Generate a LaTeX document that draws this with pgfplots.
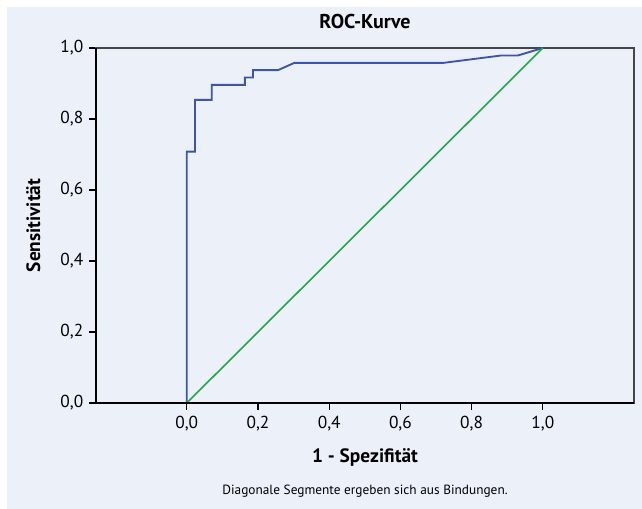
\documentclass[border=0pt]{standalone}
\usepackage{fontspec}
\setmainfont{PT Sans}
\usepackage{pgfplots}
\pgfplotsset{compat=1.18}
\usetikzlibrary{backgrounds}
\definecolor{bgblue}{RGB}{236,240,249}
\definecolor{rocblue}{RGB}{61,86,166}
\definecolor{refgreen}{RGB}{34,168,74}
\definecolor{framegray}{RGB}{70,70,70}
\begin{document}
\begin{tikzpicture}
\begin{axis}[
  at={(0pt,0pt)}, anchor=south west,
  scale only axis,
  width=403.5pt, height=266.25pt,
  xmin=-0.255, xmax=1.256,
  ymin=0, ymax=1,
  axis line style={framegray, line width=1pt},
  xtick={0,0.2,...,1.0}, ytick={0,0.2,...,1.0},
  xtick pos=bottom, ytick pos=left,
  tick align=outside,
  major tick length=5pt,
  tick style={black, line width=0.8pt},
  /pgf/number format/assume math mode=true,
  /pgf/number format/.cd, use comma, fixed, fixed zerofill, precision=1,
  /pgfplots/.cd,
  ticklabel style={font=\fontsize{13}{15}\selectfont},
  xticklabel style={yshift=-1pt},
  yticklabel style={xshift=-1pt},
  title={\textbf{ROC-Kurve}},
  title style={font=\fontsize{15}{17}\selectfont, at={(rel axis cs:0.5,1)}, anchor=center, yshift=13.5pt},
  xlabel={\textbf{1 - Spezifität}},
  ylabel={\textbf{Sensitivität}},
  label style={font=\fontsize{14.5}{17}\selectfont},
  xlabel style={at={(rel axis cs:0.5,0)}, anchor=center, yshift=-41pt},
  ylabel style={at={([xshift=-47pt]rel axis cs:0,0.5)}, anchor=center},
  clip=false,
]
\addplot[rocblue, line width=1.4pt] coordinates {
  (0,0) (0,0.708) (0.023,0.708) (0.023,0.854) (0.07,0.854) (0.07,0.896)
  (0.163,0.896) (0.163,0.917) (0.186,0.917) (0.186,0.9375) (0.256,0.9375)
  (0.302,0.958) (0.72,0.958) (0.884,0.979) (0.93,0.979) (1,1)
};
\addplot[refgreen, line width=1.2pt] coordinates {(0,0) (1,1)};
\draw[black, line width=1.4pt] (rel axis cs:0,1) -- (rel axis cs:0,0) -- (rel axis cs:1,0);
\node[font=\fontsize{10}{12}\selectfont] at (rel axis cs:0.5,0) [yshift=-66pt] {Diagonale Segmente ergeben sich aus Bindungen.};
\end{axis}
\begin{scope}[on background layer]
  \fill[white] (-72pt,-79.5pt) rectangle (409.5pt,302.25pt);
  \fill[bgblue] (-66.75pt,-79.5pt) rectangle (409.5pt,297pt);
\end{scope}
\path[use as bounding box] (-72pt,-79.5pt) rectangle (409.5pt,302.25pt);
\end{tikzpicture}
\end{document}
